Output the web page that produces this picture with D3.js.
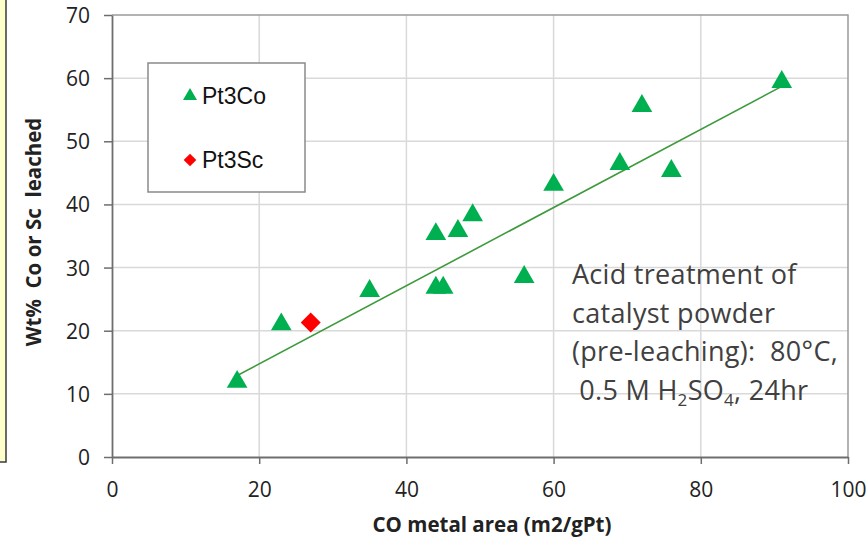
<!DOCTYPE html>
<html lang="en">
  <head>
    <meta charset="utf-8">
    <title>Wt% Co or Sc leached vs CO metal area</title>
    <script src="https://cdn.jsdelivr.net/npm/d3@7"></script>
    <style>
      html, body { margin: 0; padding: 0; background: #fff; }
      svg { display: block; }
      .tick text { font-family: "Open Sans", sans-serif; font-size: 21px; fill: #222; }
      .axis-title { font-family: "Open Sans", sans-serif; font-weight: bold; font-size: 20.5px; fill: #222; }
      .legend-text { font-family: "Liberation Sans", Arial, sans-serif; font-size: 23px; fill: #111; }
      .note { font-family: "Open Sans", sans-serif; font-size: 27px; letter-spacing: 0.3px; fill: #404040; }
    </style>
  </head>
  <body>
    <div id="chart"></div>
    <script>

      // data
      var coArea    = [17, 23, 35, 44, 44, 45, 47, 49, 56, 60, 69, 72, 76, 91];
      var coLeached = [11.9, 21, 26.3, 35.3, 26.8, 26.8, 35.8, 38.3, 28.5, 43.1, 46.4, 55.6, 45.3, 59.4];
      var scArea    = [27];
      var scLeached = [21.3];
      var trendX    = [16.7, 91];
      var trendY    = [12.7, 58.7];
      var xTicks    = [0, 20, 40, 60, 80, 100];
      var yTicks    = [0, 10, 20, 30, 40, 50, 60, 70];
      var noteLines = ["Acid treatment of", "catalyst powder", "(pre-leaching):  80\u00b0C,"];

      var w = 866, h = 541;

      var svg = d3.select("#chart").append("svg")
        .attr("width", w)
        .attr("height", h);

      var x = d3.scaleLinear().domain([0, 100]).range([112, 848]);
      var y = d3.scaleLinear().domain([0, 70]).range([457, 15]);

      /*
       * yellow box cut off at left edge
       */
      svg.append("rect")
        .attr("x", -10).attr("y", -10)
        .attr("width", 16).attr("height", 472)
        .attr("fill", "#ffffcc")
        .attr("stroke", "#3a3a3a")
        .attr("stroke-width", 1.5);

      // gridlines
      svg.append("g").selectAll("line").data(yTicks.slice(1, -1)).join("line")
        .attr("x1", x(0)).attr("x2", x(100))
        .attr("y1", d => y(d)).attr("y2", d => y(d))
        .attr("stroke", "#d9d9d9").attr("stroke-width", 1.5);

      svg.append("g").selectAll("line").data(xTicks.slice(1, -1)).join("line")
        .attr("x1", d => x(d)).attr("x2", d => x(d))
        .attr("y1", y(0)).attr("y2", y(70))
        .attr("stroke", "#d9d9d9").attr("stroke-width", 1.5);

      // plot border top + right
      svg.append("path")
        .attr("d", "M" + x(0) + "," + y(70) + "H" + x(100) + "V" + y(0))
        .attr("fill", "none")
        .attr("stroke", "#9a9a9a")
        .attr("stroke-width", 1.5);

      // axes
      var xAxis = d3.axisBottom(x).tickValues(xTicks).tickSize(7).tickSizeOuter(0).tickPadding(18);
      var yAxis = d3.axisLeft(y).tickValues(yTicks).tickSize(8).tickSizeOuter(0).tickPadding(14);

      var gX = svg.append("g").attr("transform", "translate(0," + y(0) + ")").call(xAxis);
      var gY = svg.append("g").attr("transform", "translate(" + x(0) + ",0)").call(yAxis);

      [gX, gY].forEach(function(g) {
        g.selectAll(".domain").attr("stroke", "#6e6e6e").attr("stroke-width", 1.8);
        g.selectAll(".tick line").attr("stroke", "#6e6e6e").attr("stroke-width", 1.5);
      });
      gY.selectAll(".tick text").attr("dy", "0.36em");

      // axis titles
      svg.append("text")
        .attr("class", "axis-title")
        .attr("text-anchor", "middle")
        .attr("transform", "translate(41,232) rotate(-90)")
        .attr("xml:space", "preserve")
        .text("Wt%  Co or Sc  leached");

      svg.append("text")
        .attr("class", "axis-title")
        .attr("text-anchor", "middle")
        .attr("x", 492).attr("y", 532)
        .text("CO metal area (m2/gPt)");

      // trendline
      svg.append("line")
        .attr("x1", x(trendX[0])).attr("y1", y(trendY[0]))
        .attr("x2", x(trendX[1])).attr("y2", y(trendY[1]))
        .attr("stroke", "#3d9a3d")
        .attr("stroke-width", 1.6);

      var tri = d3.symbol().type(d3.symbolTriangle);
      var dia = d3.symbol().type(d3.symbolSquare);

      // Pt3Co
      svg.append("g").selectAll("path").data(coArea).join("path")
        .attr("d", tri.size(185))
        .attr("transform", (d, i) => "translate(" + x(d) + "," + y(coLeached[i]) + ")")
        .attr("fill", "#00b050");

      // Pt3Sc
      svg.append("g").selectAll("path").data(scArea).join("path")
        .attr("d", dia.size(200))
        .attr("transform", (d, i) => "translate(" + x(d) + "," + y(scLeached[i]) + ") rotate(45)")
        .attr("fill", "#ff0000");

      /*
       * legend
       */
      var leg = svg.append("g");
      leg.append("rect")
        .attr("x", 148).attr("y", 63)
        .attr("width", 157).attr("height", 129)
        .attr("fill", "#fff")
        .attr("stroke", "#8a8a8a")
        .attr("stroke-width", 1.5);
      leg.append("path")
        .attr("d", tri.size(85))
        .attr("transform", "translate(190,96)")
        .attr("fill", "#00b050");
      leg.append("path")
        .attr("d", dia.size(80))
        .attr("transform", "translate(190,160) rotate(45)")
        .attr("fill", "#ff0000");
      leg.append("text").attr("class", "legend-text").attr("x", 202).attr("y", 104).text("Pt3Co");
      leg.append("text").attr("class", "legend-text").attr("x", 202).attr("y", 168).text("Pt3Sc");

      /*
       * note
       */
      var note = svg.append("text").attr("class", "note").attr("xml:space", "preserve");
      noteLines.forEach(function(l, i) {
        note.append("tspan").attr("x", 572).attr("y", 284 + i * 38.5).text(l);
      });
      var last = note.append("tspan").attr("x", 572).attr("y", 284 + 3 * 38.5);
      last.append("tspan").text(" 0.5 M H");
      last.append("tspan").attr("font-size", 17).attr("dy", 6).text("2");
      last.append("tspan").attr("dy", -6).text("SO");
      last.append("tspan").attr("font-size", 17).attr("dy", 6).text("4");
      last.append("tspan").attr("dy", -6).text(", 24hr");

    </script>
  </body>
</html>
